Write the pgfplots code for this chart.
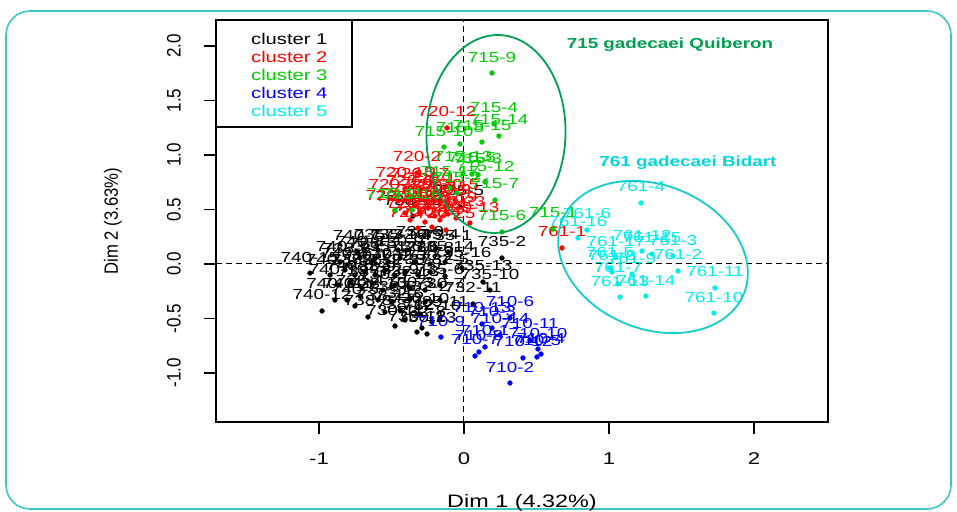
\documentclass[border=0pt]{standalone}
\usepackage{fontspec}
\setmainfont{Liberation Sans}
\usepackage{graphicx}
\usepackage{pgfplots}
\pgfplotsset{compat=1.18}
\usepackage{pgfplotstable}

\definecolor{cgreen}{RGB}{0,205,0}
\definecolor{ccyan}{RGB}{0,238,238}
\definecolor{cred}{RGB}{255,0,0}
\definecolor{cblue}{RGB}{0,0,255}
\definecolor{egreen}{RGB}{0,160,80}
\definecolor{ecyan}{RGB}{20,205,200}
\definecolor{tcyan}{RGB}{0,215,215}
\definecolor{framec}{RGB}{60,200,190}

\newcommand{\sx}[1]{\scalebox{1.3}[1]{#1}}
\newcommand{\sy}[1]{\scalebox{1}[1.15]{#1}}
\newcommand{\labfont}{\fontsize{14.5bp}{16bp}\selectfont}
\newcommand{\tickfont}{\fontsize{17bp}{19bp}\selectfont}

\pgfplotstableread{
x y label
-1.062 -0.083 740-15
-0.979 -0.431 740-12
-0.662 -0.486 738-8
-0.476 -0.569 730-11
-0.324 -0.624 730-12
-0.255 -0.642 730-13
-0.290 -0.587 732-8
-0.221 -0.532 732-10
-0.407 -0.514 738-12
-0.028 0.523 735-5
-0.352 0.440 738-13
-0.738 0.110 740-7
-0.593 0.128 735-7
-0.455 0.128 735-15
-0.393 0.128 732-4
-0.303 0.147 735-9
-0.200 0.128 735-4
-0.110 0.110 735-1
-0.855 0.018 740-3
-0.807 -0.009 738-2
-0.717 0.055 740-8
-0.628 0.037 738-5
-0.524 0.018 735-12
-0.441 0.055 730-9
-0.338 0.018 730-6
-0.234 0.000 730-8
-0.131 0.018 735-14
-0.014 -0.037 735-16
0.262 0.055 735-2
-0.924 -0.101 740-1
-0.821 -0.055 740-4
-0.752 -0.101 738-7
-0.683 -0.073 730-1
-0.614 -0.101 738-1
-0.545 -0.055 730-4
-0.476 -0.110 732-3
-0.407 -0.073 732-7
-0.317 -0.101 735-8
-0.234 -0.073 730-2
-0.131 -0.110 732-5
0.131 -0.165 735-13
-0.869 -0.193 740-10
-0.786 -0.165 740-6
-0.703 -0.220 738-3
-0.634 -0.174 738-9
-0.559 -0.239 730-5
-0.476 -0.193 732-9
-0.372 -0.220 732-13
-0.269 -0.239 732-1
-0.166 -0.193 735-6
0.179 -0.239 735-10
-0.890 -0.330 740-11
-0.807 -0.330 740-2
-0.717 -0.294 738-4
-0.593 -0.330 738-10
-0.497 -0.349 738-6
-0.372 -0.312 730-3
-0.269 -0.349 732-2
-0.166 -0.330 730-7
0.062 -0.367 732-11
-0.752 -0.385 740-5
-0.545 -0.440 738-11
-0.441 -0.422 732-6
-0.303 -0.459 730-10
-0.166 -0.495 735-11
}\clusterone

\pgfplotstableread{
x y label
-0.117 1.248 720-12
-0.324 0.835 720-2
-0.407 0.688 720-15
0.676 0.147 761-1
-0.303 0.679 720-17
-0.221 0.633 720-1
-0.372 0.615 720-6
-0.455 0.578 720-22
-0.269 0.587 720-3
-0.166 0.560 720-11
-0.338 0.541 720-4
-0.248 0.514 720-8
-0.117 0.532 720-9
-0.062 0.587 720-5
-0.476 0.486 720-14
-0.407 0.468 720-16
-0.303 0.468 720-18
-0.200 0.440 720-10
-0.110 0.459 720-19
-0.372 0.404 720-7
-0.269 0.385 720-20
-0.166 0.404 720-21
-0.055 0.422 720-23
0.041 0.376 720-13
-0.221 0.339 720-24
-0.124 0.312 720-25
-0.317 0.330 720-26
}\clustertwo

\pgfplotstableread{
x y label
0.193 1.752 715-9
0.207 1.284 715-4
0.241 1.174 715-14
0.124 1.119 715-15
-0.028 1.101 715-8
-0.138 1.073 715-10
-0.007 0.835 715-13
0.055 0.826 715-5
0.097 0.817 715-3
0.145 0.752 715-12
-0.097 0.697 715-17
0.214 0.587 715-7
0.262 0.294 715-6
0.614 0.321 715-1
-0.359 0.495 715-16
-0.048 0.651 715-2
-0.476 0.495 715-11
}\clusterthree

\pgfplotstableread{
x y label
0.317 -0.495 710-6
0.124 -0.550 710-13
0.193 -0.587 710-3
-0.159 -0.670 710-9
0.455 -0.697 710-11
0.510 -0.780 710-10
0.145 -0.761 710-1
0.076 -0.844 710-7
0.103 -0.807 710-8
0.407 -0.862 710-12
0.503 -0.853 710-5
0.531 -0.826 710-4
0.248 -0.651 710-14
0.317 -1.092 710-2
}\clusterfour

\pgfplotstableread{
x y label
1.221 0.560 761-4
0.848 0.312 761-6
0.786 0.239 761-16
1.228 0.119 761-12
1.048 0.064 761-17
1.297 0.092 761-15
1.441 0.073 761-3
1.007 -0.037 761-5
1.021 -0.073 761-8
1.159 -0.092 761-9
1.476 -0.064 761-2
1.062 -0.183 761-7
1.731 -0.220 761-11
1.076 -0.303 761-13
1.255 -0.294 761-14
1.724 -0.450 761-10
}\clusterfive

\pgfplotsset{
  clus/.style={only marks, mark=*, mark size=2.4bp, color=#1,
    mark options={solid, draw=#1, fill=#1},
    point meta=explicit symbolic,
    nodes near coords={\sx{\pgfplotspointmeta}},
    every node near coord/.append style={text=#1, font=\labfont, anchor=center, yshift=16bp, inner sep=0pt}},
}

\begin{document}
\begin{tikzpicture}
\path[use as bounding box] (-216bp,-90bp) rectangle (741bp,422bp);
\draw[framec, line width=1.6bp, rounded corners=24bp] (-210bp,-87bp) rectangle (735bp,411bp);
\begin{axis}[
  scale only axis, width=612bp, height=402bp,
  xmin=-1.7103, xmax=2.5103, ymin=-1.4495, ymax=2.2385,
  axis line style={line width=1.1bp, black},
  xtick={-1,0,1,2}, xticklabels={\sx{-1},\sx{0},\sx{1},\sx{2}},
  ytick={-1,-0.5,0,0.5,1,1.5,2},
  yticklabels={\sy{-1.0},\sy{-0.5},\sy{0.0},\sy{0.5},\sy{1.0},\sy{1.5},\sy{2.0}},
  tick align=outside, tick pos=left,
  major tick length=12bp,
  every tick/.style={line width=1.1bp, black},
  xticklabel style={font=\tickfont, anchor=center, yshift=-25bp},
  yticklabel style={font=\tickfont, anchor=center, xshift=-30bp, rotate=90},
  xlabel={\scalebox{1.3}[1]{Dim 1 (4.32\%)}},
  ylabel={\sy{Dim 2 (3.63\%)}},
  xlabel style={font=\fontsize{18bp}{20bp}\selectfont, at={(axis description cs:0.5,-0.2)}, anchor=center},
  ylabel style={font=\fontsize{16.7bp}{19bp}\selectfont, at={(axis description cs:-0.1683,0.5)}, anchor=center},
  clip=false,
]
\draw[black, line width=1bp, dash pattern=on 6bp off 4bp] (axis cs:-1.7103,0) -- (axis cs:2.5103,0);
\draw[black, line width=1bp, dash pattern=on 6bp off 4bp] (axis cs:0,-1.4495) -- (axis cs:0,2.2385);
\addplot[clus=black] table[x=x, y=y, meta=label] {\clusterone};
\addplot[clus=cred] table[x=x, y=y, meta=label] {\clustertwo};
\addplot[clus=cgreen] table[x=x, y=y, meta=label] {\clusterthree};
\addplot[clus=cblue] table[x=x, y=y, meta=label] {\clusterfour};
\addplot[clus=ccyan] table[x=x, y=y, meta=label] {\clusterfive};
\end{axis}
% ellipses
\draw[egreen, line width=1.8bp, rotate around={-2:(280bp,288bp)}] (280bp,288bp) ellipse [x radius=69.5bp, y radius=99bp];
\draw[ecyan, line width=1.8bp, rotate around={-21.8:(437bp,165bp)}] (437bp,165bp) ellipse [x radius=98bp, y radius=72bp];
% titles
\node[egreen, font=\fontsize{14.5bp}{16bp}\selectfont\bfseries, anchor=center] at (454bp,377bp) {\sx{715 gadecaei Quiberon}};
\node[tcyan, font=\fontsize{14.5bp}{16bp}\selectfont\bfseries, anchor=center] at (472bp,259bp) {\sx{761 gadecaei Bidart}};
% legend
\draw[black, line width=1.1bp, fill=white] (0bp,402bp) rectangle (136bp,295bp);
\begin{scope}[every node/.style={anchor=west, inner sep=0pt, font=\fontsize{15.5bp}{17bp}\selectfont}]
\node[text=black] at (35bp,383bp) {\sx{cluster 1}};
\node[text=cred] at (35bp,365bp) {\sx{cluster 2}};
\node[text=cgreen] at (35bp,347bp) {\sx{cluster 3}};
\node[text=cblue] at (35bp,329bp) {\sx{cluster 4}};
\node[text=ccyan] at (35bp,311bp) {\sx{cluster 5}};
\end{scope}
\end{tikzpicture}
\end{document}
